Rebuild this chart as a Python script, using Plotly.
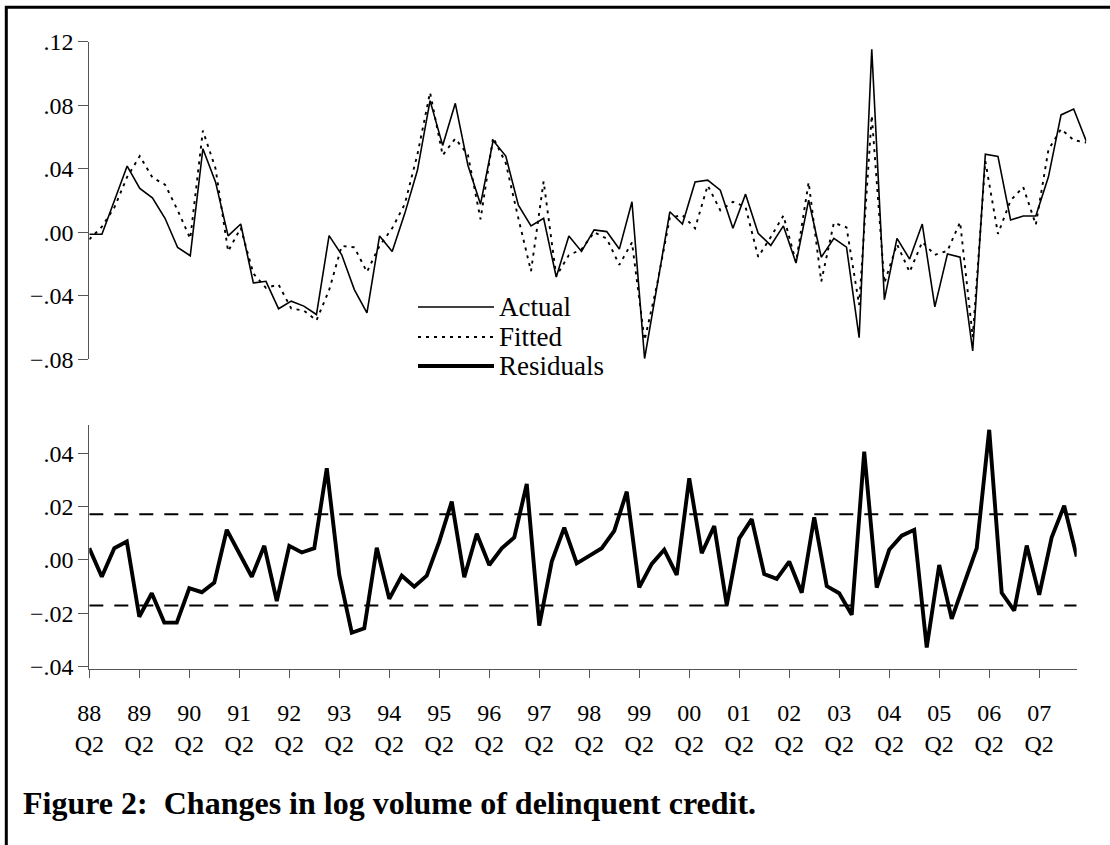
import plotly.graph_objects as go

# ---------------- data ----------------
# quarterly observations 1988Q2 .. 2008Q1 (80 quarters)
obs_index = list(range(80))

actual = [
    -0.0013, -0.0013, 0.0202, 0.0417, 0.0276, 0.0217, 0.0088, -0.0096, -0.0148, 0.0526,
    0.0317, -0.0023, 0.0052, -0.0319, -0.0309, -0.0482, -0.0434, -0.0465, -0.0518, -0.0021,
    -0.0142, -0.0361, -0.0507, -0.0023, -0.0121, 0.0119, 0.0390, 0.0829, 0.0547, 0.0812,
    0.0422, 0.0177, 0.0578, 0.0480, 0.0171, 0.0040, 0.0088, -0.0282, -0.0023, -0.0121,
    0.0015, 0.0004, -0.0106, 0.0192, -0.0795, -0.0340, 0.0129, 0.0052, 0.0317, 0.0328,
    0.0265, 0.0025, 0.0240, -0.0006, -0.0083, 0.0040, -0.0194, 0.0202, -0.0157, -0.0038,
    -0.0094, -0.0664, 0.1152, -0.0424, -0.0038, -0.0169, 0.0052, -0.0470, -0.0136, -0.0157,
    -0.0747, 0.0491, 0.0478, 0.0077, 0.0102, 0.0102, 0.0349, 0.0739, 0.0776, 0.0574,
]

fitted = [
    -0.0045, 0.0035, 0.0158, 0.0348, 0.0480, 0.0345, 0.0300, 0.0139, -0.0040, 0.0640,
    0.0402, -0.0120, 0.0027, -0.0260, -0.0350, -0.0330, -0.0480, -0.0493, -0.0555, -0.0365,
    -0.0086, -0.0095, -0.0250, -0.0085, 0.0025, 0.0178, 0.0490, 0.0880, 0.0485, 0.0590,
    0.0487, 0.0082, 0.0597, 0.0436, 0.0087, -0.0245, 0.0320, -0.0276, -0.0144, -0.0108,
    0.0000, -0.0040, -0.0205, -0.0064, -0.0680, -0.0325, 0.0091, 0.0108, 0.0025, 0.0295,
    0.0138, 0.0192, 0.0159, -0.0155, -0.0030, 0.0105, -0.0188, 0.0315, -0.0310, 0.0060,
    0.0031, -0.0458, 0.0735, -0.0320, -0.0076, -0.0250, -0.0061, -0.0142, -0.0117, 0.0064,
    -0.0659, 0.0447, -0.0010, 0.0200, 0.0285, 0.0048, 0.0520, 0.0650, 0.0580, 0.0565,
]

residuals = [
    0.0044, -0.0063, 0.0044, 0.0069, -0.0213, -0.0125, -0.0235, -0.0235, -0.0106, -0.0121,
    -0.0085, 0.0113, 0.0025, -0.0063, 0.0053, -0.0154, 0.0053, 0.0028, 0.0044, 0.0344,
    -0.0056, -0.0273, -0.0256, 0.0046, -0.0146, -0.0059, -0.0100, -0.0059, 0.0069, 0.0219,
    -0.0065, 0.0098, -0.0019, 0.0044, 0.0084, 0.0285, -0.0246, -0.0006, 0.0121, -0.0013,
    0.0015, 0.0044, 0.0109, 0.0256, -0.0103, -0.0015, 0.0038, -0.0056, 0.0306, 0.0025,
    0.0127, -0.0169, 0.0081, 0.0153, -0.0053, -0.0071, -0.0006, -0.0123, 0.0160, -0.0098,
    -0.0125, -0.0206, 0.0406, -0.0104, 0.0038, 0.0091, 0.0113, -0.0328, -0.0019, -0.0221,
    -0.0088, 0.0044, 0.0488, -0.0123, -0.0190, 0.0054, -0.0131, 0.0085, 0.0203, 0.0013,
]

resid_se = 0.0171  # +/- one standard error band

x_tick_pos = [0, 4, 8, 12, 16, 20, 24, 28, 32, 36, 40, 44, 48, 52, 56, 60, 64, 68, 72, 76]
x_tick_years = ["88", "89", "90", "91", "92", "93", "94", "95", "96", "97",
                "98", "99", "00", "01", "02", "03", "04", "05", "06", "07"]
x_tick_text = [f"{y}<br>Q2" for y in x_tick_years]

top_tick_vals = [-0.08, -0.04, 0.0, 0.04, 0.08, 0.12]
top_tick_text = ["\u2212.08", "\u2212.04", ".00", ".04", ".08", ".12"]
bot_tick_vals = [-0.04, -0.02, 0.0, 0.02, 0.04]
bot_tick_text = ["\u2212.04", "\u2212.02", ".00", ".02", ".04"]

legend_names = ["Actual", "Fitted", "Residuals"]
title_text = "<b>Figure 2:  Changes in log volume of delinquent credit.</b>"

# ---------------- layout helpers ----------------
W, H = 1110, 845
FONT = "Liberation Serif, Times New Roman, serif"


def px(x):
    return x / W


def py(y):
    return 1 - y / H


fig = go.Figure()

# top panel
fig.add_trace(go.Scatter(x=obs_index, y=actual, mode="lines", name=legend_names[0],
                         line=dict(color="black", width=1.6), xaxis="x", yaxis="y",
                         showlegend=False))
fig.add_trace(go.Scatter(x=obs_index, y=fitted, mode="lines", name=legend_names[1],
                         line=dict(color="black", width=1.9, dash="3px,5px"),
                         xaxis="x", yaxis="y", showlegend=False))
# bottom panel
fig.add_trace(go.Scatter(x=[obs_index[0], obs_index[-1]], y=[resid_se, resid_se], mode="lines",
                         line=dict(color="black", width=2, dash="14px,11px"),
                         xaxis="x2", yaxis="y2", showlegend=False, hoverinfo="skip"))
fig.add_trace(go.Scatter(x=[obs_index[0], obs_index[-1]], y=[-resid_se, -resid_se], mode="lines",
                         line=dict(color="black", width=2, dash="14px,11px"),
                         xaxis="x2", yaxis="y2", showlegend=False, hoverinfo="skip"))
fig.add_trace(go.Scatter(x=obs_index, y=residuals, mode="lines", name=legend_names[2],
                         line=dict(color="black", width=3.9), xaxis="x2", yaxis="y2",
                         showlegend=False))

axis_col = "#555555"
tickfont = dict(family=FONT, size=24, color="black")

fig.update_layout(
    width=W, height=H,
    margin=dict(l=0, r=0, t=0, b=0, pad=0),
    paper_bgcolor="white", plot_bgcolor="white",
    xaxis=dict(domain=[px(89.3), px(1086.3)], range=[0, 79], visible=False,
               automargin=False),
    yaxis=dict(domain=[py(359.3), py(41.7)], range=[-0.08, 0.12],
               tickvals=top_tick_vals, ticktext=top_tick_text, tickfont=tickfont,
               showline=True, linecolor=axis_col, linewidth=1,
               ticks="outside", ticklen=10, tickcolor=axis_col,
               showgrid=False, zeroline=False, automargin=False),
    xaxis2=dict(domain=[px(89.3), px(1076.7)], range=[0, 79], anchor="y2",
                tickvals=x_tick_pos, ticktext=x_tick_text, tickfont=tickfont,
                showline=True, linecolor=axis_col, linewidth=1,
                ticks="outside", ticklen=8, tickcolor=axis_col, tickangle=0,
                ticklabelstandoff=14,
                showgrid=False, zeroline=False, automargin=False),
    yaxis2=dict(domain=[py(669.3), py(425)], range=[-0.041, 0.0506], anchor="x2",
                tickvals=bot_tick_vals, ticktext=bot_tick_text, tickfont=tickfont,
                showline=True, linecolor=axis_col, linewidth=1,
                ticks="outside", ticklen=10, tickcolor=axis_col,
                showgrid=False, zeroline=False, automargin=False),
    showlegend=False,
)

# legend (drawn manually to match long sample lines)
leg_rows = [307, 337, 366]
leg_styles = [dict(width=1.6, dash="solid"), dict(width=1.9, dash="3px,5px"),
              dict(width=3.9, dash="solid")]
for name, yy, st in zip(legend_names, leg_rows, leg_styles):
    fig.add_shape(type="line", xref="paper", yref="paper",
                  x0=px(418), x1=px(494), y0=py(yy), y1=py(yy),
                  line=dict(color="black", **st))
    fig.add_annotation(text=name, xref="paper", yref="paper", x=px(497), y=py(yy),
                       xanchor="left", yanchor="middle", showarrow=False,
                       font=dict(family=FONT, size=27, color="black"))

# title
fig.add_annotation(text=title_text, xref="paper", yref="paper", x=px(21), y=py(803),
                   xanchor="left", yanchor="middle", showarrow=False,
                   font=dict(family=FONT, size=32, color="black"))

# frame (top and left border)
fig.add_shape(type="path", xref="paper", yref="paper",
              path=f"M {px(6.3)} {py(850)} L {px(6.3)} {py(7.2)} L {px(1115)} {py(7.2)}",
              line=dict(color="black", width=3))

fig.write_html("out.html",
               config={"displayModeBar": False},
               post_script="document.body.style.margin='0';document.body.style.padding='0';")
